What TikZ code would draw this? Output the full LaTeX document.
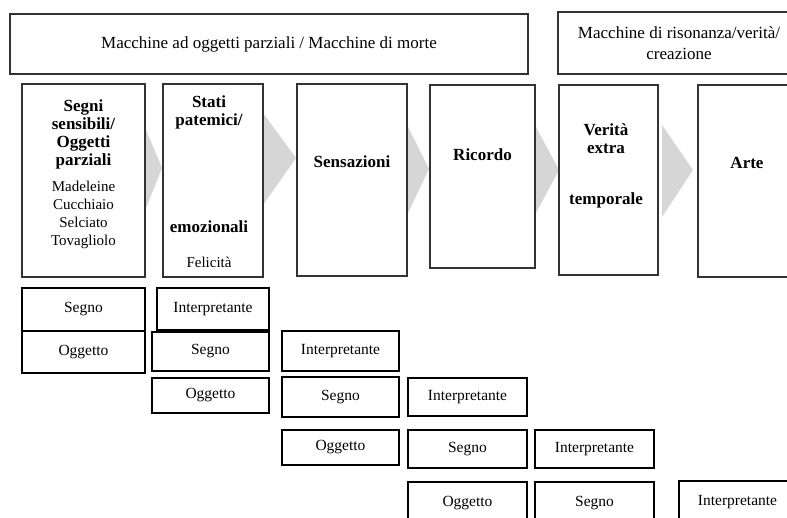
\documentclass[tikz,border=0pt]{standalone}
\usepackage{fontspec}
\setmainfont{Liberation Serif}
\usetikzlibrary{positioning}

\begin{document}
\begin{tikzpicture}[
    x=1pt,
    y=-1pt,
    wh/.style 2 args={
        minimum width=#1,
        minimum height=#2
    },
    machine/.style={
        rectangle,
        draw=black!80,
        line width=1.2pt,
        fill=white,
        align=center,
        font=\fontsize{17}{21}\selectfont
    },
    stage/.style={
        rectangle,
        draw=black!80,
        line width=1.2pt,
        fill=white
    },
    head/.style={
        align=center,
        font=\fontsize{17}{18}\selectfont\bfseries
    },
    item/.style={
        align=center,
        font=\fontsize{15}{18}\selectfont
    },
    sign/.style={
        rectangle,
        draw=black,
        line width=2.2pt,
        fill=white,
        inner sep=0pt,
        font=\fontsize{15.5}{18}\selectfont
    },
    chevron/.style={fill=black!16}
]
    \useasboundingbox (0,0) rectangle (787,517);

    % Machines
    \node[machine, wh={518}{60}] (morte) at (269,44) {Macchine ad oggetti parziali / Macchine di morte};
    \node[machine, wh={242}{62}] (risonanza) at (679,43) {Macchine di risonanza/verità/\\creazione};

    % Chevrons between the stages
    \foreach \lx/\tx/\ty/\up/\dn in {144/162/168/125/213, 263/296/158/113/205, 407/429/169/125/215, 535/559/170/125/215, 662/693/170/125/217}
        \fill[chevron] (\lx,\up) -- (\tx,\ty) -- (\lx,\dn) -- cycle;

    % Stages
    \node[stage, wh={123}{193}] (segni) at (83.5,180.5) {};
    \node[stage, wh={100}{193}] (stati) at (213,180.5) {};
    \node[stage, wh={110}{192}] (sensazioni) at (352,180) {};
    \node[stage, wh={105}{183}] (ricordo) at (482.5,176.5) {};
    \node[stage, wh={99}{190}] (verita) at (608.5,180) {};
    \node[stage, wh={98}{192}] (arte) at (747,181) {};

    % Stage texts
    \node[head] (segnihead) at (83.5,134.5) {Segni\\sensibili/\\Oggetti\\parziali};
    \node[item] (segniitems) at (83.5,215) {Madeleine\\Cucchiaio\\Selciato\\Tovagliolo};
    \node[head] (statihead) at (209,112.5) {Stati\\patemici/};
    \node[head] (statiemo) at (209,227) {emozionali};
    \node[item] (statiitem) at (209,262) {Felicità};
    \node[head] (sensazionihead) at (352,162) {Sensazioni};
    \node[head] (ricordohead) at (482.5,155) {Ricordo};
    \node[head] (veritahead) at (606,138.5) {Verità\\extra};
    \node[head] (veritatemp) at (606,200) {temporale};
    \node[head] (artehead) at (747,163) {Arte};

    % Sign chains
    \node[sign, wh={123}{43}] (segnoA) at (83.5,309.5) {Segno};
    \node[sign, wh={123}{42}] (oggettoA) at (83.5,352) {Oggetto};

    \node[sign, wh={112}{42}] (interpB) at (213,309) {Interpretante};
    \node[sign, wh={117}{39}] (segnoB) at (210.5,351.5) {Segno};
    \node[sign, wh={117}{35}] (oggettoB) at (210.5,395.5) {Oggetto};

    \node[sign, wh={117}{40}] (interpC) at (340.5,351) {Interpretante};
    \node[sign, wh={117}{40}] (segnoC) at (340.5,397) {Segno};
    \node[sign, wh={117}{35}] (oggettoC) at (340.5,447.5) {Oggetto};

    \node[sign, wh={119}{38}] (interpD) at (467.5,397) {Interpretante};
    \node[sign, wh={119}{38}] (segnoD) at (467.5,449) {Segno};
    \node[sign, wh={119}{42}] (oggettoD) at (467.5,503) {Oggetto};

    \node[sign, wh={119}{38}] (interpE) at (594.5,449) {Interpretante};
    \node[sign, wh={119}{42}] (segnoE) at (594.5,503) {Segno};

    \node[sign, wh={117}{42}] (interpF) at (737.5,502) {Interpretante};
\end{tikzpicture}
\end{document}
